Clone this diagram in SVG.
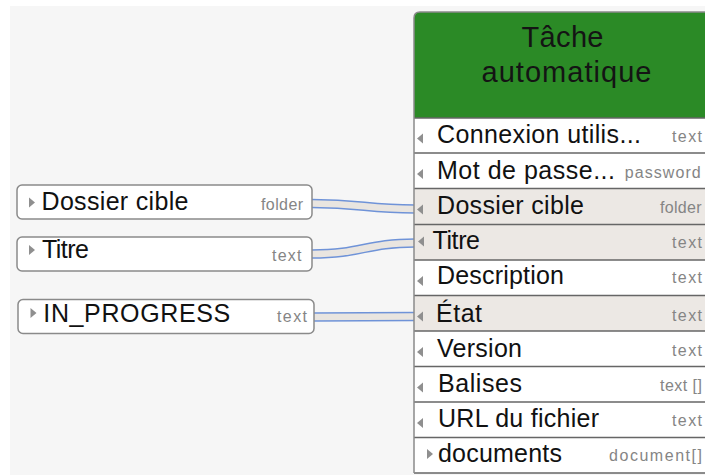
<svg xmlns="http://www.w3.org/2000/svg" width="705" height="475" viewBox="0 0 705 475">
<style>
.lbl{font-family:"Liberation Sans",Arial,sans-serif;font-size:25px;fill:#111}
.typ{font-family:"Liberation Sans",Arial,sans-serif;font-size:16px;fill:#858585}
.hdr{font-family:"Liberation Sans",Arial,sans-serif;font-size:29px;fill:#141414}
.box{fill:#fff;stroke:#8a8a8a;stroke-width:1.5}
.tri{fill:#8f8f8f}
.sep{stroke:#666;stroke-width:1.5}
.hl{fill:#ece8e4}
.wr{fill:#fff}
.rb-o{fill:none;stroke:#6f93d8;stroke-width:9.5}
.rb-i{fill:none;stroke:#e9e5e0;stroke-width:6.5}
</style>
<rect x="0" y="0" width="705" height="475" fill="#fff"/>
<rect x="10" y="6" width="695" height="469" fill="#f6f6f6"/>

<g id="connectors">
<path class="rb-o" d="M312,203.5 C362,203.5 366,209 415,209"/>
<path class="rb-i" d="M312,203.5 C362,203.5 366,209 415,209"/>
<path class="rb-o" d="M312,254 C362,254 366,243 415,243"/>
<path class="rb-i" d="M312,254 C362,254 366,243 415,243"/>
<path class="rb-o" d="M314,317 C362,317 366,316.5 415,316.5"/>
<path class="rb-i" d="M314,317 C362,317 366,316.5 415,316.5"/>
</g>

<g id="src-dossier">
<rect class="box" x="17" y="185" width="295" height="34" rx="5"/>
<polygon class="tri" points="29,197.5 29,207.5 35,202.5"/>
<text class="lbl" x="41.5" y="209.5" textLength="147" lengthAdjust="spacing">Dossier cible</text>
<text class="typ" x="261" y="209.5" textLength="42" lengthAdjust="spacing">folder</text>
</g>

<g id="src-titre">
<rect class="box" x="17" y="237" width="295" height="34" rx="5"/>
<polygon class="tri" points="29,245 29,255 35,250"/>
<text class="lbl" x="42" y="258" textLength="47" lengthAdjust="spacing">Titre</text>
<text class="typ" x="272" y="261" textLength="29.5" lengthAdjust="spacing">text</text>
</g>

<g id="src-inprogress">
<rect class="box" x="18" y="299.5" width="296" height="34" rx="5"/>
<polygon class="tri" points="30.5,308 30.5,318 36.5,313"/>
<text class="lbl" x="43.3" y="321.7" textLength="187" lengthAdjust="spacing">IN_PROGRESS</text>
<text class="typ" x="277" y="322" textLength="30" lengthAdjust="spacing">text</text>
</g>

<g id="task">
<path d="M414,118 V18 Q414,12 420,12 H706 V118 Z" fill="#2b8a26"/>
<text class="hdr" x="521.5" y="47" textLength="82" lengthAdjust="spacing">Tâche</text>
<text class="hdr" x="481.5" y="82" textLength="170" lengthAdjust="spacing">automatique</text>

<rect class="wr" x="414" y="118" width="292" height="35"/>
<rect class="wr" x="414" y="153" width="292" height="35.5"/>
<rect class="hl" x="414" y="188.5" width="292" height="36"/>
<rect class="hl" x="414" y="224.5" width="292" height="35.5"/>
<rect class="wr" x="414" y="260" width="292" height="35.5"/>
<rect class="hl" x="414" y="295.5" width="292" height="35.5"/>
<rect class="wr" x="414" y="331" width="292" height="35.5"/>
<rect class="wr" x="414" y="366.5" width="292" height="35.5"/>
<rect class="wr" x="414" y="402" width="292" height="35.5"/>
<rect class="wr" x="414" y="437.5" width="292" height="35.5"/>

<line class="sep" x1="414" y1="118" x2="706" y2="118"/>
<line class="sep" x1="414" y1="153" x2="706" y2="153"/>
<line class="sep" x1="414" y1="188.5" x2="706" y2="188.5"/>
<line class="sep" x1="414" y1="224.5" x2="706" y2="224.5"/>
<line class="sep" x1="414" y1="260" x2="706" y2="260"/>
<line class="sep" x1="414" y1="295.5" x2="706" y2="295.5"/>
<line class="sep" x1="414" y1="331" x2="706" y2="331"/>
<line class="sep" x1="414" y1="366.5" x2="706" y2="366.5"/>
<line class="sep" x1="414" y1="402" x2="706" y2="402"/>
<line class="sep" x1="414" y1="437.5" x2="706" y2="437.5"/>
<line class="sep" x1="414" y1="473" x2="706" y2="473"/>
<path d="M414,473 V18 Q414,12 420,12 H706" fill="none" stroke="#8a8a8a" stroke-width="1.5"/>

<polygon class="tri" points="423,133.5 423,143.5 417,138.5"/>
<polygon class="tri" points="423,169 423,179 417,174"/>
<polygon class="tri" points="423,204.5 423,214.5 417,209.5"/>
<polygon class="tri" points="424,236.5 424,246.5 418,241.5"/>
<polygon class="tri" points="423,276 423,286 417,281"/>
<polygon class="tri" points="423,311.5 423,321.5 417,316.5"/>
<polygon class="tri" points="423,347 423,357 417,352"/>
<polygon class="tri" points="423,382.5 423,392.5 417,387.5"/>
<polygon class="tri" points="423,418 423,428 417,423"/>
<polygon class="tri" points="427,449 427,459 433,454"/>

<text class="lbl" x="437" y="143.3" textLength="204" lengthAdjust="spacing">Connexion utilis...</text>
<text class="typ" x="672" y="142" textLength="30" lengthAdjust="spacing">text</text>
<text class="lbl" x="437" y="178.5" textLength="178" lengthAdjust="spacing">Mot de passe...</text>
<text class="typ" x="624.7" y="177.5" textLength="76" lengthAdjust="spacing">password</text>
<text class="lbl" x="437" y="213.5" textLength="147" lengthAdjust="spacing">Dossier cible</text>
<text class="typ" x="660" y="212.5" textLength="41.5" lengthAdjust="spacing">folder</text>
<text class="lbl" x="432.5" y="249.3" textLength="47.5" lengthAdjust="spacing">Titre</text>
<text class="typ" x="672" y="248.3" textLength="30" lengthAdjust="spacing">text</text>
<text class="lbl" x="437" y="284.3" textLength="127" lengthAdjust="spacing">Description</text>
<text class="typ" x="672" y="283.3" textLength="30" lengthAdjust="spacing">text</text>
<text class="lbl" x="436" y="321.7" textLength="46" lengthAdjust="spacing">État</text>
<text class="typ" x="672" y="320.7" textLength="30" lengthAdjust="spacing">text</text>
<text class="lbl" x="437" y="356.7" textLength="85" lengthAdjust="spacing">Version</text>
<text class="typ" x="672" y="355.7" textLength="30" lengthAdjust="spacing">text</text>
<text class="lbl" x="438" y="392.3" textLength="84" lengthAdjust="spacing">Balises</text>
<text class="typ" x="660" y="391.3" textLength="42" lengthAdjust="spacing">text []</text>
<text class="lbl" x="438" y="427.3" textLength="161" lengthAdjust="spacing">URL du fichier</text>
<text class="typ" x="672" y="426.3" textLength="30" lengthAdjust="spacing">text</text>
<text class="lbl" x="438" y="461.7" textLength="124" lengthAdjust="spacing">documents</text>
<text class="typ" x="609" y="460.7" textLength="93" lengthAdjust="spacing">document[]</text>
</g>
</svg>
